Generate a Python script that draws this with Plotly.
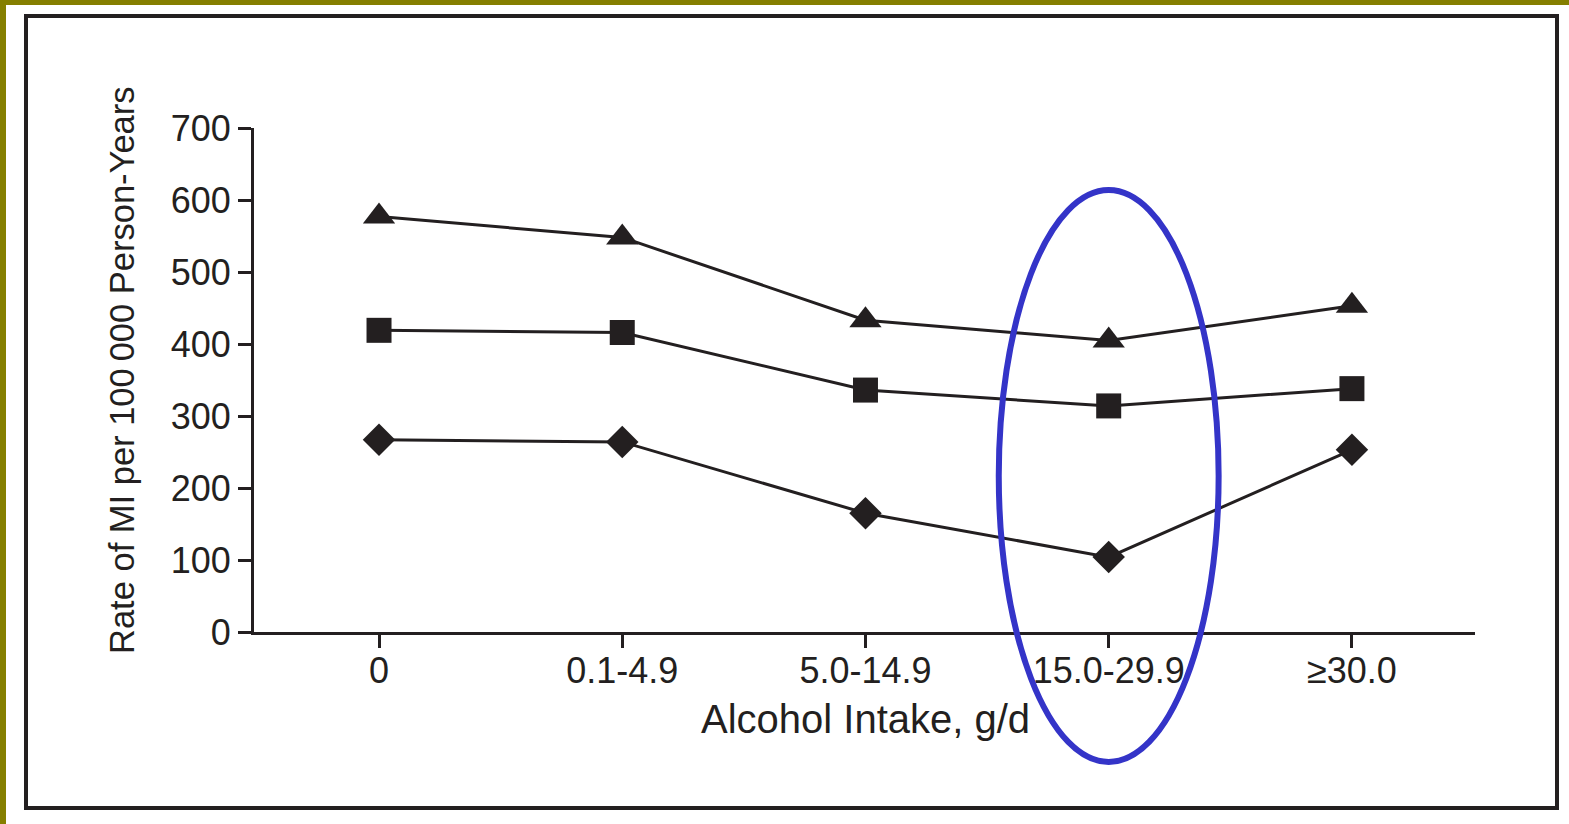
import plotly.graph_objects as go

categories = ["0", "0.1-4.9", "5.0-14.9", "15.0-29.9", "≥30.0"]
triangle_vals = [577, 548, 433, 405, 453]
square_vals = [419, 416, 336, 314, 338]
diamond_vals = [267, 264, 165, 104, 253]
y_ticks = [0, 100, 200, 300, 400, 500, 600, 700]

W, H = 1569, 824
L, R, T, B = 254, 1475, 128, 632
INK = "#231f20"
FONT = "Liberation Sans, Arial, sans-serif"


def px(x):
    return (x - L) / (R - L)


def py(y):
    return (B - y) / (B - T)


xi = list(range(len(categories)))
fig = go.Figure()
for vals, sym, size in [(triangle_vals, "triangle-up", 28),
                        (square_vals, "square", 25),
                        (diamond_vals, "diamond", 25)]:
    fig.add_trace(go.Scatter(
        x=xi, y=vals, mode="lines+markers",
        line=dict(color=INK, width=3),
        marker=dict(symbol=sym, size=size, color=INK, line=dict(width=0)),
        showlegend=False, cliponaxis=False))

shapes = [
    # outer black frame
    dict(type="rect", xref="paper", yref="paper",
         x0=px(26), x1=px(1557), y0=py(16), y1=py(808),
         line=dict(color=INK, width=4), layer="below"),
    # olive bands
    dict(type="rect", xref="paper", yref="paper",
         x0=px(0), x1=px(W), y0=py(0), y1=py(5),
         fillcolor="#857f00", line=dict(width=0)),
    dict(type="rect", xref="paper", yref="paper",
         x0=px(0), x1=px(6), y0=py(0), y1=py(H),
         fillcolor="#857f00", line=dict(width=0)),
    # blue ellipse around 15.0-29.9
    dict(type="circle", xref="x", yref="paper",
         x0=3 - 0.452, x1=3 + 0.452, y0=py(762), y1=py(190),
         line=dict(color="#3434c8", width=6), layer="above"),
]

annotations = [
    dict(text="Rate of MI per 100\u2009000 Person-Years", textangle=-90,
         xref="paper", yref="paper", x=px(122), y=py(370),
         xanchor="center", yanchor="middle", showarrow=False,
         font=dict(family=FONT, size=34.5, color=INK)),
    dict(text="Alcohol Intake, g/d",
         xref="paper", yref="paper", x=px(865), y=py(719),
         xanchor="center", yanchor="middle", showarrow=False,
         font=dict(family=FONT, size=40, color=INK)),
]

fig.update_layout(
    width=W, height=H,
    margin=dict(l=L, r=W - R, t=T, b=H - B, pad=0),
    paper_bgcolor="white", plot_bgcolor="white",
    shapes=shapes, annotations=annotations,
    font=dict(family=FONT, color=INK),
)
fig.update_xaxes(
    range=[-0.514, 4.506], tickmode="array", tickvals=xi, ticktext=categories,
    showline=True, linecolor=INK, linewidth=3, showgrid=False, zeroline=False,
    ticks="outside", ticklen=13, tickwidth=3, tickcolor=INK,
    ticklabelstandoff=-8,
    tickfont=dict(family=FONT, size=36, color=INK),
)
fig.update_yaxes(
    range=[0, 700], tickmode="array", tickvals=y_ticks,
    showline=True, linecolor=INK, linewidth=3, showgrid=False, zeroline=False,
    ticks="outside", ticklen=13, tickwidth=3, tickcolor=INK,
    tickfont=dict(family=FONT, size=36, color=INK),
)

fig.write_html("out.html",
               config={"displayModeBar": False},
               post_script="document.body.style.margin='0';"
                           "document.body.style.padding='0';")
